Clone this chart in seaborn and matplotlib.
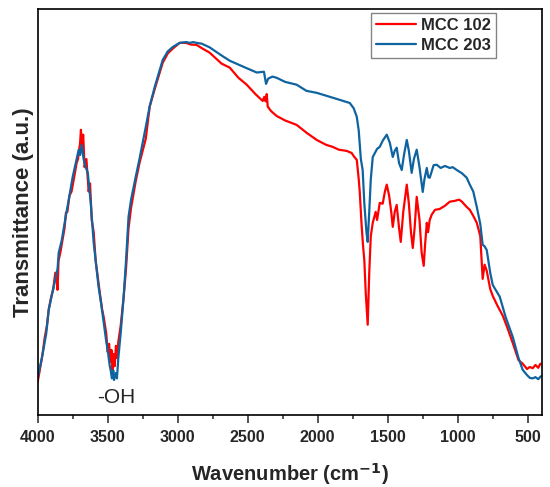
import numpy as np
import matplotlib
matplotlib.use("Agg")
import matplotlib.pyplot as plt
from matplotlib.ticker import MultipleLocator
import seaborn as sns
import pandas as pd

# MCC 203 (blue) - wavenumber (cm-1) / transmittance (a.u.)
wn_203 = [4000, 3970, 3939, 3921, 3889, 3858, 3850, 3828, 3800, 3778, 3750, 3728, 3707, 3697,
          3686, 3672, 3657, 3642, 3621, 3600, 3586, 3565, 3545, 3528, 3510, 3500, 3485, 3479,
          3470, 3460, 3455, 3443, 3434, 3424, 3407, 3386, 3369, 3351, 3333, 3300, 3273, 3228,
          3200, 3162, 3107, 3071, 3035, 2986, 2940, 2914, 2889, 2865, 2828, 2772, 2687, 2628,
          2536, 2435, 2384, 2369, 2354, 2323, 2293, 2233, 2150, 2081, 2007, 1930, 1864, 1808,
          1771, 1743, 1721, 1707, 1692, 1679, 1667, 1652, 1643, 1632, 1621, 1607, 1576, 1557,
          1536, 1507, 1485, 1464, 1450, 1436, 1419, 1400, 1384, 1364, 1349, 1329, 1313, 1293,
          1273, 1250, 1238, 1221, 1210, 1200, 1172, 1150, 1122, 1091, 1057, 1036, 1007, 970,
          936, 914, 889, 864, 839, 822, 808, 793, 768, 750, 700, 657, 607, 566, 536, 505, 484,
          464, 445, 425, 410, 400]
t_203 = [9.1, 14, 20, 25.9, 31, 36, 39.9, 43, 48.8, 53, 58.6, 62, 65.3, 64,
         66.5, 63, 61, 59.6, 52.2, 42.4, 38, 31.5, 27, 22.7, 18, 16.0, 12, 11.1,
         9, 11, 8.6, 10.3, 9, 14, 20.2, 29.1, 38, 48.8, 53, 58.6, 63, 70.9,
         76, 81, 87.4, 89.5, 90.6, 91.6, 91.8, 91.6, 91.8, 91.6, 91.4, 90.5, 88.5, 87.2,
         85.8, 84.3, 84.5, 81.5, 82.8, 83.3, 83.0, 82.0, 81.3, 79.8, 79.3, 78.5, 77.8, 77.2,
         76.8, 75.5, 73.4, 70, 63, 60.3, 52, 45, 42.6, 50, 58, 63.5, 65.5, 66.0,
         67.5, 69.0, 67, 63.5, 65, 65.8, 62, 60.3, 64, 67.7, 65, 59.6, 63, 65.3,
         61, 54.9, 58, 60.8, 58.5, 58.4, 61.5, 61.6, 60.8, 61.3, 60.8, 61.0, 60.3, 59.5,
         58.4, 56.7, 55, 51.2, 47, 41.9, 41.5, 40.6, 35, 32, 29.1, 24, 19.2, 14, 11.1, 9.8, 9.1,
         9.0, 9.3, 8.8, 9.4, 9.6]

# MCC 102 (red)
wn_102 = [4000, 3985, 3965, 3950, 3934, 3921, 3904, 3889, 3874, 3864, 3858, 3851, 3838, 3823,
          3808, 3798, 3788, 3773, 3758, 3750, 3737, 3722, 3712, 3697, 3691, 3683, 3675, 3665,
          3652, 3636, 3626, 3614, 3600, 3586, 3571, 3556, 3540, 3528, 3510, 3500, 3490, 3480,
          3473, 3465, 3457, 3450, 3441, 3434, 3424, 3407, 3386, 3369, 3351, 3333, 3300, 3273,
          3228, 3200, 3162, 3107, 3071, 3035, 2986, 2940, 2909, 2865, 2828, 2772, 2687, 2628,
          2566, 2507, 2445, 2393, 2382, 2372, 2364, 2357, 2333, 2293, 2233, 2150, 2081, 2007,
          1940, 1893, 1849, 1793, 1758, 1738, 1721, 1707, 1700, 1687, 1677, 1667, 1657, 1643,
          1632, 1621, 1607, 1586, 1576, 1557, 1536, 1520, 1507, 1490, 1475, 1464, 1450, 1436,
          1419, 1407, 1389, 1364, 1349, 1334, 1321, 1308, 1293, 1273, 1258, 1243, 1233, 1221,
          1212, 1200, 1186, 1162, 1129, 1091, 1057, 1022, 990, 970, 936, 914, 889, 864, 839,
          822, 808, 793, 768, 750, 718, 678, 646, 607, 566, 536, 505, 486, 465, 445, 425, 410, 400]
t_102 = [8.1, 11, 15, 19, 22, 26, 29, 31, 35, 33, 30.8, 38, 40, 43,
         46, 49.8, 50, 54, 55, 56.5, 59, 62, 63, 67, 70.2, 66, 69, 61,
         63, 55, 57, 48, 45, 38, 34, 30, 26, 24, 20, 15.5, 17.5, 13,
         16, 11, 15, 12, 17, 14, 18, 22, 29, 36, 46, 51, 57.5, 62,
         68, 75.9, 80.5, 86.7, 89, 90.2, 91.6, 91.6, 91.2, 91.1, 90.3, 89.2, 86.5, 85.5,
         83, 81.3, 79, 77.3, 78.3, 77.2, 79, 75.9, 74.8, 73.6, 72.5, 71.4, 69.5, 67.7,
         66.5, 66.0, 65.3, 65.0, 64.5, 63.5, 62.8, 58, 55, 47, 42, 38, 30, 22.2,
         35, 44, 47.3, 50, 48, 52.2, 52, 55, 56.7, 54, 50, 46.3, 50, 51.7,
         46, 42.6, 50, 56.7, 52, 45, 41.1, 46, 53.7, 48, 40, 36.7, 42, 47.3,
         45, 48, 49.3, 50.5, 50.7, 51.5, 52.5, 52.7, 53, 52.5, 51.2, 50.5, 49, 47.3, 44,
         33.5, 37, 35.5, 31, 29.3, 27, 24.4, 21.5, 17.7, 13.5, 12.6, 11.3, 11.8, 11.5, 12.3, 11.6, 12.6, 12.5]

sns.set_style("white")
plt.rcParams['font.family'] = ['Liberation Sans', 'DejaVu Sans']

fig = plt.figure(figsize=(5.5, 4.87), dpi=100)
ax = fig.add_axes([0.0685, 0.148, 0.9165, 0.834])

df102 = pd.DataFrame({'wn': wn_102, 't': t_102})
df203 = pd.DataFrame({'wn': wn_203, 't': t_203})
sns.lineplot(data=df102, x='wn', y='t', ax=ax, color='#ff0000', lw=1.6,
             sort=False, estimator=None, label='MCC 102')
sns.lineplot(data=df203, x='wn', y='t', ax=ax, color='#0f64a0', lw=1.6,
             sort=False, estimator=None, label='MCC 203')

ax.set_xlim(4000, 400)
ax.set_ylim(0, 100)
ax.xaxis.set_major_locator(MultipleLocator(500))
ax.xaxis.set_minor_locator(MultipleLocator(250))
ax.tick_params(axis='x', which='major', direction='out', length=5.5, width=1.1, bottom=True, pad=5)
ax.tick_params(axis='x', which='minor', direction='out', length=2.8, width=1.1, bottom=True)
ax.set_yticks([])
for lab in ax.get_xticklabels():
    lab.set_fontweight('bold')
    lab.set_fontsize(11.6)
for s in ax.spines.values():
    s.set_color('black')
    s.set_linewidth(1.2)

ax.set_xlabel('Wavenumber (cm$^{\\mathbf{-1}}$)', fontsize=14.5, fontweight='bold', labelpad=12)
ax.set_ylabel('Transmittance (a.u.)', fontsize=16, fontweight='bold', labelpad=3)

ax.text(3441, 4.3, '-OH', fontsize=15, ha='center', va='center')

leg = ax.legend(loc='upper right', fancybox=False, frameon=True, edgecolor='#666666',
                prop={'weight': 'bold', 'size': 12}, handlelength=2.4, handletextpad=0.3,
                borderpad=0.3, labelspacing=0.3, borderaxespad=0,
                bbox_to_anchor=(0.909, 0.990))
leg.get_frame().set_linewidth(1.0)

fig.savefig('out.png', dpi=100)
